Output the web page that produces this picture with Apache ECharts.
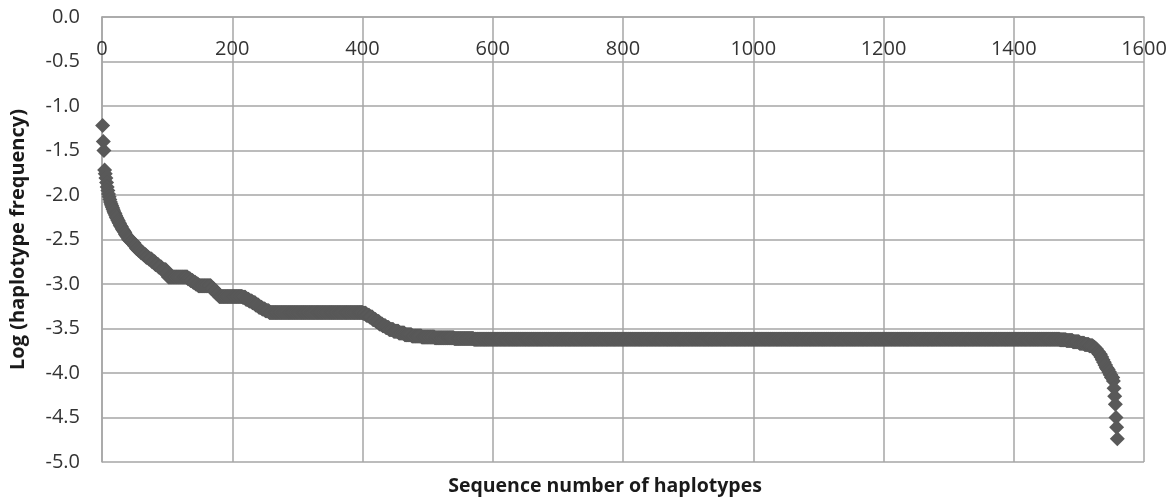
<!DOCTYPE html>
<html>
<head>
<meta charset="utf-8">
<script src="https://cdn.jsdelivr.net/npm/echarts@6/dist/echarts.min.js"></script>
<style>
html,body{margin:0;padding:0;background:#fff;}
#chart{width:1175px;height:501px;}
</style>
</head>
<body>
<div id="chart"></div>
<script>
// Log haplotype frequency levels (in rank order) and how many consecutive haplotypes share each level
const logFreqLevels = [
  -1.22, -1.40, -1.50, -1.72, -1.76, -1.81, -1.86, -1.91, -1.95, -1.99,
  -2.02, -2.05, -2.08, -2.10, -2.12, -2.14, -2.16, -2.18, -2.20, -2.21,
  -2.23, -2.25, -2.26, -2.28, -2.29, -2.31, -2.32, -2.34, -2.35, -2.36,
  -2.38, -2.39, -2.40, -2.41, -2.42, -2.44, -2.45, -2.46, -2.47, -2.48,
  -2.50, -2.52, -2.54, -2.57, -2.60, -2.62, -2.65, -2.67, -2.70, -2.72,
  -2.75, -2.78, -2.81, -2.84, -2.88, -2.92, -2.94, -2.96, -2.98, -3.00,
  -3.02, -3.05, -3.08, -3.11, -3.14, -3.15, -3.17, -3.19, -3.21, -3.235,
  -3.26, -3.28, -3.30, -3.32, -3.33, -3.35, -3.37, -3.40, -3.42, -3.45,
  -3.47, -3.49, -3.51, -3.53, -3.55, -3.57, -3.585, -3.595, -3.605, -3.613,
  -3.62, -3.625, -3.635, -3.65, -3.665, -3.68, -3.695, -3.71, -3.73, -3.76,
  -3.79, -3.82, -3.85, -3.88, -3.91, -3.94, -3.96, -3.99, -4.02, -4.05,
  -4.09, -4.17, -4.26, -4.35, -4.50, -4.61, -4.74
];
const haplotypeCounts = [
  1, 1, 1, 1, 1, 1, 1, 1, 1, 1,
  1, 1, 1, 1, 1, 1, 1, 1, 1, 1,
  1, 1, 1, 1, 1, 1, 1, 1, 1, 1,
  1, 1, 1, 1, 1, 1, 1, 1, 1, 1,
  3, 3, 3, 3, 3, 4, 4, 4, 4, 5,
  5, 5, 5, 7, 3, 30, 4, 4, 4, 4,
  20, 4, 4, 4, 36, 5, 5, 5, 5, 5,
  5, 5, 6, 144, 5, 5, 5, 5, 5, 5,
  5, 5, 7, 8, 9, 11, 15, 20, 30, 30,
  900, 10, 10, 10, 8, 7, 6, 3, 3, 3,
  3, 2, 2, 2, 2, 2, 2, 2, 2, 3,
  1, 1, 1, 1, 1, 1, 1
];
const xTicks = { min: 0, max: 1600, step: 200 };
const yTicks = { min: -5, max: 0, step: 0.5 };
const xTitle = 'Sequence number of haplotypes';
const yTitle = 'Log (haplotype frequency)';

const points = [];
let rank = 0;
logFreqLevels.forEach(function (v, i) {
  for (let k = 0; k < haplotypeCounts[i]; k++) {
    rank++;
    points.push([rank, v]);
  }
});

const gridColor = '#a6a6a6';
const textColor = '#333333';
const fontFam = '"Open Sans", "Noto Sans", sans-serif';

const chart = echarts.init(document.getElementById('chart'), null, { renderer: 'canvas' });
chart.setOption({
  animation: false,
  backgroundColor: '#ffffff',
  grid: { left: 102, right: 31, top: 17, bottom: 39, containLabel: false },
  xAxis: {
    type: 'value',
    position: 'top',
    min: xTicks.min, max: xTicks.max, interval: xTicks.step,
    axisLine: { show: true, onZero: false, lineStyle: { color: gridColor, width: 1.5 } },
    axisTick: { show: false },
    axisLabel: {
      inside: true, margin: 22, fontSize: 20, color: textColor, fontFamily: fontFam,
      showMinLabel: true, showMaxLabel: true,
      formatter: function (v) { return String(v); }
    },
    splitLine: { show: true, lineStyle: { color: gridColor, width: 1.5 } }
  },
  yAxis: {
    type: 'value',
    min: yTicks.min, max: yTicks.max, interval: yTicks.step,
    axisLine: { show: true, lineStyle: { color: gridColor, width: 1.5 } },
    axisTick: { show: false },
    axisLabel: {
      margin: 22, fontSize: 20, color: textColor, fontFamily: fontFam,
      formatter: function (v) { return v.toFixed(1); }
    },
    splitLine: { show: true, lineStyle: { color: gridColor, width: 1.5 } },
    name: yTitle,
    nameLocation: 'middle',
    nameRotate: 90,
    nameGap: 74,
    nameTextStyle: { fontSize: 20, fontWeight: 'bold', color: '#1a1a1a', fontFamily: fontFam }
  },
  graphic: [{
    type: 'text',
    x: 605, y: 486,
    style: {
      text: xTitle,
      textAlign: 'center', textVerticalAlign: 'middle',
      align: 'center', verticalAlign: 'middle',
      font: 'bold 19.5px "Open Sans", "Noto Sans", sans-serif',
      fill: '#1a1a1a'
    }
  }],
  series: [{
    type: 'scatter',
    data: points,
    symbol: 'diamond',
    symbolSize: 15,
    itemStyle: { color: '#595959', opacity: 1 },
    emphasis: { disabled: true },
    silent: true
  }]
});
</script>
</body>
</html>
